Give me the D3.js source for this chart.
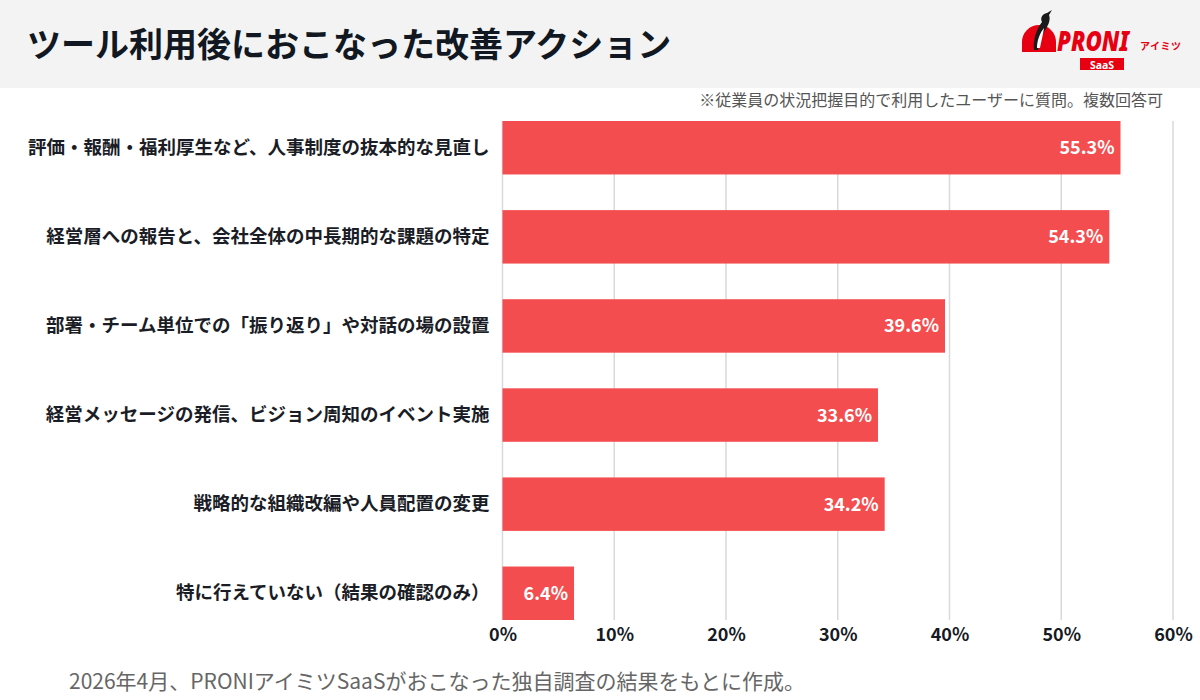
<!DOCTYPE html>
<html><head><meta charset="utf-8">
<script src="https://cdn.jsdelivr.net/npm/d3@7/dist/d3.min.js"></script>
<style>
html,body{margin:0;padding:0;background:#fff;}
svg{display:block;font-family:"Noto Sans CJK JP","Noto Sans",sans-serif;}
</style></head>
<body>
<svg id="chart" width="1200" height="700"></svg>
<script>
const titleText = "ツール利用後におこなった改善アクション";
const noteText = "※従業員の状況把握目的で利用したユーザーに質問。複数回答可";
const footerText = "2026年4月、PRONIアイミツSaaSがおこなった独自調査の結果をもとに作成。";
const categories = [
  "評価・報酬・福利厚生など、人事制度の抜本的な見直し",
  "経営層への報告と、会社全体の中長期的な課題の特定",
  "部署・チーム単位での「振り返り」や対話の場の設置",
  "経営メッセージの発信、ビジョン周知のイベント実施",
  "戦略的な組織改編や人員配置の変更",
  "特に行えていない（結果の確認のみ）"
];
const values = [55.3, 54.3, 39.6, 33.6, 34.2, 6.4];
const tickValues = [0, 10, 20, 30, 40, 50, 60];

const svg = d3.select("#chart");
const W = 1200, H = 700;

// header band
svg.append("rect").attr("x",0).attr("y",0).attr("width",W).attr("height",88).attr("fill","#f3f3f3");
svg.append("text").attr("x",27).attr("y",57).attr("font-size",34).attr("font-weight",700)
  .attr("fill","#111822").text(titleText);

// logo
const logo = svg.append("g").attr("transform","translate(1020,0)");
logo.append("path").attr("d","M2,52 L2,42 A17,17 0 0 1 36,42 L36,52 Z").attr("fill","#e60012");
logo.append("path").attr("d","M14,50 C13,40 16,30 22,22 C20,18 22,14 27,13 L32,10 L29,15 C31,20 28,26 24,32 C21,38 19,44 18,50 Z").attr("fill","#1a1a1a");
logo.append("path").attr("d","M17,48 C17,40 20,33 24,28 C23,35 21,42 20,48 Z").attr("fill","#fff");
const proniG = logo.append("g").attr("transform","translate(37,51)");
const proni = proniG.append("text").attr("x",0).attr("y",0).attr("font-size",28).attr("font-weight",900)
  .attr("font-style","italic").attr("fill","#e60012").attr("font-family","'Noto Sans','DejaVu Sans',sans-serif")
  .text("PRONI");
const pw = proni.node().getComputedTextLength() || 74;
proni.attr("transform",`scale(${Math.min(1,72/pw)},1)`);
logo.append("text").attr("x",120).attr("y",50).attr("font-size",10).attr("font-weight",700)
  .attr("fill","#e60012").attr("letter-spacing","0.5").text("アイミツ");
logo.append("rect").attr("x",60).attr("y",58).attr("width",44).attr("height",12).attr("fill","#e60012");
logo.append("text").attr("x",82).attr("y",68.5).attr("text-anchor","middle").attr("font-size",10.5)
  .attr("font-weight",700).attr("fill","#fff").attr("font-family","'Noto Sans',sans-serif").text("SaaS");

// note
svg.append("text").attr("x",1163).attr("y",106).attr("text-anchor","end").attr("font-size",16)
  .attr("fill","#555").text(noteText);

// scales
const x = d3.scaleLinear().domain([0,60]).range([502.5,1173]);
const y = d3.scaleBand().domain(categories).range([121,620]).paddingInner(0.4).paddingOuter(0);

// grid
svg.append("g").selectAll("line").data(tickValues).join("line")
  .attr("x1",d=>x(d)).attr("x2",d=>x(d)).attr("y1",121).attr("y2",620)
  .attr("stroke","#d9d9d9").attr("stroke-width",1.5);

// bars
svg.append("g").selectAll("rect").data(values).join("rect")
  .attr("x",x(0)).attr("y",(d,i)=>y(categories[i]))
  .attr("width",d=>x(d)-x(0)).attr("height",y.bandwidth())
  .attr("fill","#f44d50");

// value labels
svg.append("g").selectAll("text").data(values).join("text")
  .attr("x",d=>x(d)-6).attr("y",(d,i)=>y(categories[i])+y.bandwidth()/2)
  .attr("dy","0.36em").attr("text-anchor","end").attr("font-size",18).attr("font-weight",700)
  .attr("fill","#fff").text(d=>d.toFixed(1)+"%");

// category labels
const yAxis = d3.axisLeft(y).tickSize(0).tickPadding(13);
const yg = svg.append("g").attr("transform",`translate(${x(0)},0)`).call(yAxis);
yg.select(".domain").remove();
yg.selectAll("text").attr("font-size",18.5).attr("font-weight",700).attr("fill","#1a1d26")
  .attr("font-family","'Noto Sans CJK JP',sans-serif");

// x axis
const xAxis = d3.axisBottom(x).tickValues(tickValues).tickSize(0).tickPadding(8).tickFormat(d=>d+"%");
const xg = svg.append("g").attr("transform","translate(0,620)").call(xAxis);
xg.select(".domain").remove();
xg.selectAll("text").attr("font-size",18).attr("font-weight",700).attr("fill","#151a24")
  .attr("font-family","'Noto Sans CJK JP',sans-serif");

// footer
svg.append("text").attr("x",69).attr("y",689).attr("font-size",21).attr("fill","#666").text(footerText);
</script>
</body></html>
